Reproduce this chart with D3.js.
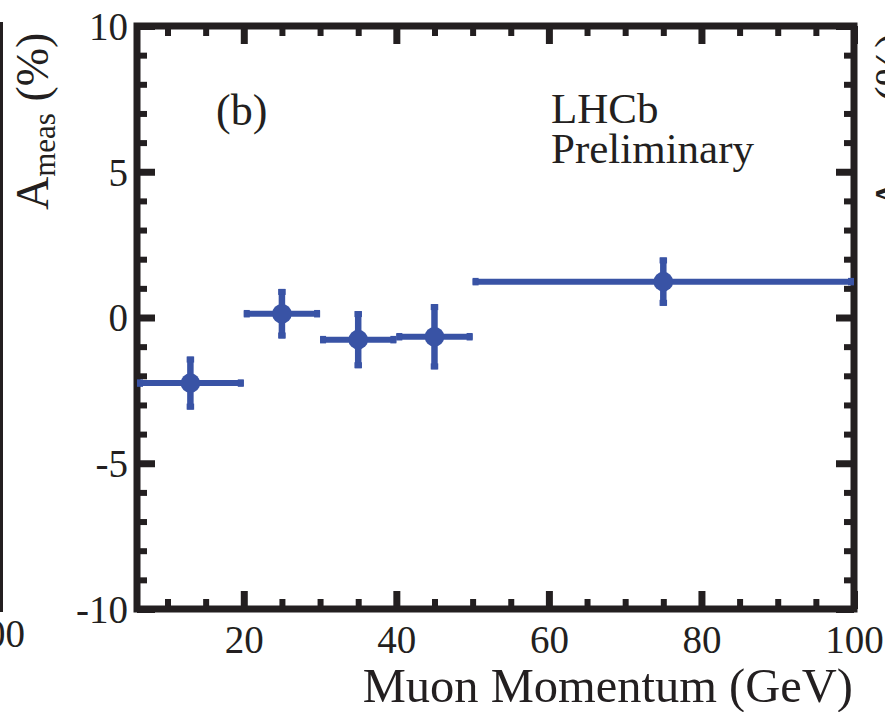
<!DOCTYPE html>
<html>
<head>
<meta charset="utf-8">
<script src="https://cdn.jsdelivr.net/npm/d3@7"></script>
<style>
	body { margin: 0; background: #fff; }
	text { font-family: 'Liberation Serif', 'DejaVu Serif', serif; fill: #231f20; }
</style>
</head>
<body>
<div id="chart"></div>
<script>
// bins in muon momentum (GeV) and measured asymmetry (%)
const binLow = [6, 20, 30, 40, 50]
const binHigh = [20, 30, 40, 50, 100]
const binCentre = [13, 25, 35, 45, 75]
const aMeas = [-2.25, 0.13, -0.76, -0.66, 1.23]
const aErr = [0.91, 0.85, 0.98, 1.12, 0.83]

const xMajor = [20, 40, 60, 80, 100]
const xMinor = [10, 15, 25, 30, 35, 45, 50, 55, 65, 70, 75, 85, 90, 95]
const yMajor = [-10, -5, 0, 5, 10]
const yMinor = [-9, -8, -7, -6, -4, -3, -2, -1, 1, 2, 3, 4, 6, 7, 8, 9]

const data = binLow.map((lo, i) => ({
	lo,
	hi: binHigh[i],
	x: binCentre[i],
	y: aMeas[i],
	err: aErr[i]
}))

const chart = {
	width: 885,
	height: 712,
	frame: { left: 137, right: 854, top: 26, bottom: 609 },
	ink: '#231f20',
	blue: '#3953a5',

	draw(element) {
		const f = this.frame

		const x = d3.scaleLinear().domain([6, 100]).range([f.left, f.right])
		const y = d3.scaleLinear().domain([-10, 10]).range([f.bottom, f.top])

		const svg = d3
			.select(`#${element}`)
			.append('svg')
			.attr('width', this.width)
			.attr('height', this.height)

		svg.append('defs')
			.append('clipPath')
			.attr('id', 'plotArea')
			.append('rect')
			.attr('x', f.left)
			.attr('y', f.top)
			.attr('width', f.right - f.left)
			.attr('height', f.bottom - f.top)

		// neighbouring panels, cut by the crop
		svg.append('line')
			.attr('x1', 1.5).attr('x2', 1.5)
			.attr('y1', 22).attr('y2', 612)
			.attr('stroke', this.ink)
			.attr('stroke-width', 3)

		svg.append('text')
			.attr('x', 25)
			.attr('y', 647)
			.attr('text-anchor', 'end')
			.style('font-size', '39px')
			.text('100')

		this.yTitle(svg, 48)
		this.yTitle(svg, 907)

		// ticks, all pointing inwards
		const tick = (g, axis, values, size, width) =>
			g.call(axis.tickValues(values).tickSize(-size))
				.call(g => g.select('.domain').remove())
				.call(g => g.selectAll('.tick line')
					.attr('stroke', this.ink)
					.attr('stroke-width', width))

		const axes = [
			[() => d3.axisBottom(x), `translate(0,${f.bottom})`, xMajor, xMinor, true],
			[() => d3.axisTop(x), `translate(0,${f.top})`, xMajor, xMinor, false],
			[() => d3.axisLeft(y), `translate(${f.left},0)`, yMajor, yMinor, true],
			[() => d3.axisRight(y), `translate(${f.right},0)`, yMajor, yMinor, false]
		]

		axes.forEach(([makeAxis, shift, major, minor, labelled], i) => {
			svg.append('g')
				.attr('transform', shift)
				.call(g => tick(g, makeAxis().tickFormat(''), minor, 10, 6))
			const g = svg.append('g')
				.attr('transform', shift)
				.call(g => tick(g, makeAxis().tickFormat(labelled ? d => String(d) : ''), major, 18, 7))
			g.selectAll('text')
				.style('font-family', "'Liberation Serif', serif")
				.style('font-size', '39px')
				.attr('fill', this.ink)
			if (i === 0) g.selectAll('text').attr('y', 44).attr('dy', 0)
			if (i === 2) g.selectAll('text').attr('x', -9).attr('dy', '0.34em')
		})

		svg.append('rect')
			.attr('x', f.left)
			.attr('y', f.top)
			.attr('width', f.right - f.left)
			.attr('height', f.bottom - f.top)
			.attr('fill', 'none')
			.attr('stroke', this.ink)
			.attr('stroke-width', 7)

		// data
		const marks = svg.append('g').attr('clip-path', 'url(#plotArea)')

		marks.selectAll('.hbar')
			.data(data)
			.enter()
			.append('line')
			.attr('x1', d => x(d.lo))
			.attr('x2', d => x(d.hi))
			.attr('y1', d => y(d.y))
			.attr('y2', d => y(d.y))
			.attr('stroke', this.blue)
			.attr('stroke-width', 6)

		marks.selectAll('.vbar')
			.data(data)
			.enter()
			.append('line')
			.attr('x1', d => x(d.x))
			.attr('x2', d => x(d.x))
			.attr('y1', d => y(d.y + d.err))
			.attr('y2', d => y(d.y - d.err))
			.attr('stroke', this.blue)
			.attr('stroke-width', 6.5)

		// small blobs at the bar ends
		const ends = data.flatMap(d => [
			{ cx: x(d.lo) + 3, cy: y(d.y), w: 6, h: 7.5 },
			{ cx: x(d.hi) - 3, cy: y(d.y), w: 6, h: 7.5 },
			{ cx: x(d.x), cy: y(d.y + d.err) + 3, w: 7.5, h: 6 },
			{ cx: x(d.x), cy: y(d.y - d.err) - 3, w: 7.5, h: 6 }
		])

		marks.selectAll('.end')
			.data(ends)
			.enter()
			.append('rect')
			.attr('x', d => d.cx - d.w / 2)
			.attr('y', d => d.cy - d.h / 2)
			.attr('width', d => d.w)
			.attr('height', d => d.h)
			.attr('fill', this.blue)

		marks.selectAll('circle')
			.data(data)
			.enter()
			.append('circle')
			.attr('cx', d => x(d.x))
			.attr('cy', d => y(d.y))
			.attr('r', 9.8)
			.attr('fill', this.blue)

		// labels
		svg.append('text')
			.attr('x', 216)
			.attr('y', 125)
			.style('font-size', '44px')
			.text('(b)')

		svg.append('text')
			.attr('x', 551)
			.attr('y', 123)
			.style('font-size', '43px')
			.text('LHCb')

		svg.append('text')
			.attr('x', 551)
			.attr('y', 163)
			.style('font-size', '43px')
			.text('Preliminary')

		svg.append('text')
			.attr('x', 853)
			.attr('y', 702)
			.attr('text-anchor', 'end')
			.style('font-size', '48.5px')
			.text('Muon Momentum (GeV)')
	},

	yTitle(svg, baseX) {
		const t = svg.append('text')
			.attr('transform', `translate(${baseX},210) rotate(-90)`)
			.style('font-size', '46px')
		t.append('tspan').text('A')
		t.append('tspan').attr('dy', 7).style('font-size', '31px').text('meas')
		t.append('tspan').attr('dy', -7).text('\u00a0(%)')
	}
}

chart.draw('chart')
</script>
</body>
</html>
